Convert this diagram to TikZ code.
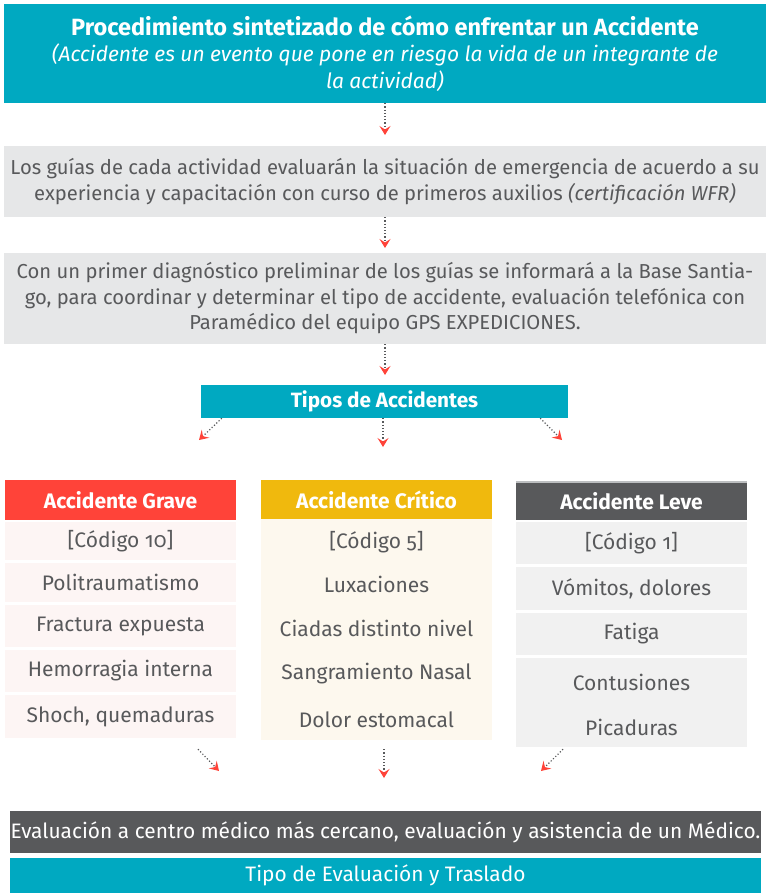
\documentclass[tikz,border=0pt]{standalone}
\usepackage{fontspec}
\setmainfont{Fira Sans}[Numbers=OldStyle]
\usetikzlibrary{arrows.meta,positioning}
\definecolor{tealbox}{HTML}{00A9C1}
\definecolor{graybox}{HTML}{E6E7E8}
\definecolor{textgray}{HTML}{58595B}
\definecolor{redhead}{HTML}{FF4339}
\definecolor{yellowhead}{HTML}{F0B90D}
\definecolor{darkhead}{HTML}{58595B}
\definecolor{pinkrow}{HTML}{FDF5F4}
\definecolor{creamrow}{HTML}{FDF8EE}
\definecolor{grayrow}{HTML}{F1F1F1}
\definecolor{edgegray}{HTML}{BCBEC0}
\begin{document}
\begin{tikzpicture}[x=1pt, y=-1pt,
		main/.style = {inner sep=0pt, align=center, font=\fontsize{20.2}{25.5}\selectfont},
		wide/.style = {main, minimum width=762pt},
		head/.style = {main, minimum width=231pt, text=white, font=\fontsize{21}{25}\selectfont\bfseries},
		row/.style = {main, minimum width=231pt, text=textgray, font=\fontsize{21}{25}\selectfont},
		item/.style = {row, minimum width=0pt},
		arr/.style = {draw=textgray, line width=1.2pt, dash pattern=on 1.2pt off 2pt,
			-{Stealth[color=redhead, length=9pt, width=11pt, inset=3.5pt]}}]
			\useasboundingbox (0,0) rectangle (768,895);
			
			\node[wide, fill=tealbox, text=white, minimum height=99pt, font=\fontsize{21}{26.5}\selectfont] (titulo) at (385,53.5)
				{{\fontsize{23.5}{26.5}\selectfont\bfseries Procedimiento sintetizado de cómo enfrentar un Accidente}\\
				{\itshape (Accidente es un evento que pone en riesgo la vida de un integrante de}\\
				{\itshape la actividad)}};
			\node[wide, fill=graybox, text=textgray, minimum height=71pt] (guias) at (385,181.5)
				{Los guías de cada actividad evaluarán la situación de emergencia de acuerdo a su\\
				experiencia y capacitación con curso de primeros auxilios {\itshape(certificación WFR)}};
			\node[wide, fill=graybox, text=textgray, minimum height=91pt] (base) at (385,298.5)
				{Con un primer diagnóstico preliminar de los guías se informará a la Base Santia-\\
				go, para coordinar y determinar el tipo de accidente, evaluación telefónica con\\
				Paramédico del equipo GPS EXPEDICIONES.};
			\node[head, fill=tealbox, minimum width=367pt, minimum height=33pt, font=\fontsize{20.7}{25}\selectfont\bfseries] (tipos) at (384.5,401.5) {Tipos de Accidentes};
			
			% grave
			\node[head, fill=redhead, minimum height=40pt] (grave) at (120.5,500) {Accidente Grave};
			\node[row, fill=pinkrow, minimum height=38pt] (grave1) at (120.5,541) {[Código 10]};
			\node[row, fill=pinkrow, minimum height=39pt] (grave2) at (120.5,582.5) {Politraumatismo};
			\node[row, fill=pinkrow, minimum height=42pt] (grave3) at (120.5,626) {Fractura expuesta};
			\node[row, fill=pinkrow, minimum height=42pt] (grave4) at (120.5,671) {Hemorragia interna};
			\node[row, fill=pinkrow, minimum height=43pt] (grave5) at (120.5,716.5) {Shoch, quemaduras};
			
			% critico
			\node[head, fill=yellowhead, minimum height=39pt] (critico) at (376.5,499.5) {Accidente Crítico};
			\node[row, fill=creamrow, minimum height=221pt] (criticobg) at (376.5,629.5) {};
			\node[item] (critico1) at (376.5,542) {[Código 5]};
			\node[item] (critico2) at (376.5,584) {Luxaciones};
			\node[item] (critico3) at (376.5,628) {Ciadas distinto nivel};
			\node[item] (critico4) at (376.5,674) {Sangramiento Nasal};
			\node[item] (critico5) at (376.5,720) {Dolor estomacal};
			
			% leve
			\node[head, fill=darkhead, minimum height=38pt] (leve) at (631.5,501) {Accidente Leve};
			\draw[edgegray, line width=1.5pt] (leve.north west) -- (leve.north east);
			\node[row, fill=grayrow, minimum height=42pt] (leve1) at (631.5,543) {[Código 1]};
			\node[row, fill=grayrow, minimum height=43pt] (leve2) at (631.5,588.5) {Vómitos, dolores};
			\node[row, fill=grayrow, minimum height=42pt] (leve3) at (631.5,634) {Fatiga};
			\node[row, fill=grayrow, minimum height=89pt] (leve4) at (631.5,702.5) {};
			\node[item] (leve4a) at (631.5,682) {Contusiones};
			\node[item] (leve4b) at (631.5,727) {Picaduras};
			
			% bottom
			\node[main, fill=darkhead, text=white, minimum width=751pt, minimum height=42pt, font=\fontsize{20.9}{25}\selectfont] (evaluacion) at (385.5,832)
				{Evaluación a centro médico más cercano, evaluación y asistencia de un Médico.};
			\node[main, fill=tealbox, text=white, minimum width=751pt, minimum height=35pt, font=\fontsize{20.9}{25}\selectfont] (traslado) at (385.5,875.5)
				{Tipo de Evaluación y Traslado};
			
			\coordinate (tip1) at (385,135);
			\coordinate (tip2) at (385,248);
			\coordinate (tip3) at (385,375);
			\coordinate (tipg) at (199,440);
			\coordinate (tipc) at (383,447);
			\coordinate (tipl) at (562,440);
			\coordinate (tipgb) at (219,771);
			\coordinate (tipcb) at (384,778);
			\coordinate (tiplb) at (541,771);
			
			\draw[arr] (titulo.south) -- (tip1);
			\draw[arr] (guias.south) -- (tip2);
			\draw[arr] (base.south) -- (tip3);
			
			\draw[arr] ([xshift=21pt]tipos.south west) -- (tipg);
			\draw[arr] ([xshift=-1.5pt]tipos.south) -- (tipc);
			\draw[arr] ([xshift=-28pt]tipos.south east) -- (tipl);
			
			\draw[arr] ([shift={(77.5pt,-11pt)}]grave5.south) -- (tipgb);
			\draw[arr] ([shift={(7.5pt,-9pt)}]criticobg.south) -- (tipcb);
			\draw[arr] ([shift={(-68.5pt,-2pt)}]leve4.south) -- (tiplb);
		\end{tikzpicture}
\end{document}
